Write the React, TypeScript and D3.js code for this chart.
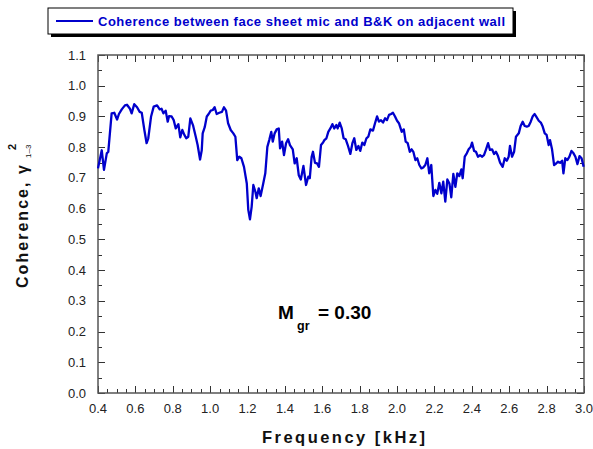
import React, { useEffect, useRef } from "react";
import * as d3 from "d3";

const freqKHz: number[] = [
  0.400, 0.420, 0.432, 0.447, 0.455, 0.473, 0.487, 0.502, 0.512, 0.527, 0.544, 0.555, 0.570, 0.580, 0.594, 0.609, 0.623, 0.634, 0.648, 0.660,
  0.669, 0.684, 0.698, 0.716, 0.730, 0.740, 0.750, 0.762, 0.773, 0.780, 0.794, 0.805, 0.816, 0.830, 0.840, 0.851, 0.862, 0.872, 0.883, 0.894,
  0.908, 0.923, 0.933, 0.946, 0.955, 0.960, 0.971, 0.982, 0.992, 1.003, 1.014, 1.024, 1.035, 1.049, 1.063, 1.074, 1.085, 1.096, 1.110, 1.124,
  1.135, 1.145, 1.156, 1.167, 1.181, 1.196, 1.204, 1.213, 1.222, 1.231, 1.242, 1.249, 1.260, 1.270, 1.284, 1.295, 1.306, 1.316, 1.327, 1.335,
  1.345, 1.356, 1.367, 1.374, 1.385, 1.395, 1.406, 1.417, 1.427, 1.442, 1.452, 1.463, 1.474, 1.485, 1.499, 1.513, 1.525, 1.533, 1.543, 1.550,
  1.561, 1.572, 1.582, 1.593, 1.604, 1.611, 1.622, 1.632, 1.643, 1.654, 1.664, 1.675, 1.682, 1.693, 1.704, 1.714, 1.725, 1.736, 1.750, 1.761,
  1.771, 1.782, 1.793, 1.803, 1.814, 1.825, 1.836, 1.846, 1.857, 1.871, 1.882, 1.893, 1.903, 1.914, 1.925, 1.936, 1.946, 1.957, 1.968, 1.978,
  1.989, 2.000, 2.010, 2.025, 2.036, 2.046, 2.057, 2.068, 2.078, 2.087, 2.098, 2.108, 2.119, 2.130, 2.140, 2.151, 2.162, 2.172, 2.183, 2.194,
  2.205, 2.215, 2.226, 2.237, 2.247, 2.258, 2.269, 2.280, 2.290, 2.301, 2.312, 2.322, 2.333, 2.344, 2.351, 2.362, 2.373, 2.383, 2.394, 2.401,
  2.412, 2.422, 2.433, 2.444, 2.454, 2.465, 2.476, 2.487, 2.497, 2.508, 2.519, 2.529, 2.540, 2.551, 2.565, 2.576, 2.587, 2.597, 2.604, 2.615,
  2.626, 2.636, 2.651, 2.661, 2.672, 2.683, 2.694, 2.704, 2.715, 2.726, 2.736, 2.747, 2.758, 2.769, 2.779, 2.790, 2.800, 2.811, 2.818, 2.829,
  2.840, 2.851, 2.861, 2.872, 2.883, 2.890, 2.900, 2.911, 2.922, 2.933, 2.944, 2.954, 2.965, 2.976, 2.987, 2.998,
];

const coherence: number[] = [
  0.731, 0.790, 0.726, 0.780, 0.785, 0.910, 0.912, 0.890, 0.908, 0.923, 0.936, 0.938, 0.926, 0.910, 0.940, 0.930, 0.915, 0.912, 0.856, 0.813,
  0.829, 0.900, 0.932, 0.936, 0.923, 0.925, 0.910, 0.919, 0.883, 0.901, 0.900, 0.888, 0.861, 0.875, 0.832, 0.856, 0.840, 0.829, 0.834, 0.894,
  0.872, 0.834, 0.807, 0.760, 0.790, 0.845, 0.865, 0.900, 0.908, 0.919, 0.921, 0.930, 0.908, 0.912, 0.915, 0.930, 0.919, 0.878, 0.856, 0.845,
  0.834, 0.758, 0.769, 0.764, 0.736, 0.682, 0.596, 0.565, 0.606, 0.677, 0.655, 0.634, 0.666, 0.641, 0.682, 0.715, 0.801, 0.823, 0.850, 0.818,
  0.845, 0.858, 0.861, 0.796, 0.818, 0.774, 0.813, 0.826, 0.807, 0.793, 0.747, 0.764, 0.709, 0.695, 0.739, 0.677, 0.704, 0.699, 0.769, 0.785,
  0.749, 0.747, 0.736, 0.807, 0.815, 0.823, 0.829, 0.850, 0.861, 0.875, 0.861, 0.872, 0.861, 0.880, 0.861, 0.829, 0.826, 0.807, 0.778, 0.813,
  0.829, 0.791, 0.804, 0.788, 0.815, 0.807, 0.829, 0.834, 0.858, 0.854, 0.878, 0.900, 0.883, 0.888, 0.880, 0.894, 0.888, 0.905, 0.908, 0.912,
  0.900, 0.886, 0.878, 0.850, 0.858, 0.818, 0.813, 0.785, 0.793, 0.785, 0.758, 0.764, 0.742, 0.731, 0.734, 0.742, 0.764, 0.715, 0.742, 0.641,
  0.661, 0.648, 0.684, 0.650, 0.688, 0.623, 0.695, 0.682, 0.637, 0.713, 0.671, 0.715, 0.706, 0.728, 0.699, 0.769, 0.780, 0.793, 0.801, 0.815,
  0.788, 0.785, 0.769, 0.774, 0.769, 0.774, 0.793, 0.813, 0.791, 0.793, 0.778, 0.785, 0.771, 0.750, 0.736, 0.764, 0.756, 0.769, 0.804, 0.769,
  0.785, 0.834, 0.845, 0.869, 0.883, 0.869, 0.867, 0.869, 0.883, 0.901, 0.908, 0.897, 0.886, 0.880, 0.867, 0.845, 0.840, 0.807, 0.823, 0.793,
  0.742, 0.747, 0.753, 0.749, 0.756, 0.715, 0.764, 0.758, 0.769, 0.788, 0.780, 0.769, 0.745, 0.771, 0.764, 0.736,
];

const xTickLabels: number[] = [0.4, 0.6, 0.8, 1.0, 1.2, 1.4, 1.6, 1.8, 2.0, 2.2, 2.4, 2.6, 2.8, 3.0];
const yTickLabels: number[] = [0.0, 0.1, 0.2, 0.3, 0.4, 0.5, 0.6, 0.7, 0.8, 0.9, 1.0, 1.1];
const legendLabel = "Coherence between face sheet mic and B&K on adjacent wall";
const xTitle = "Frequency [kHz]";
const yTitle = "Coherence, ";

const W = 593;
const H = 449;
const M = { left: 98, right: 9, top: 55, bottom: 56 };
const LINE = "#0000cc";
const AXIS = "#555";
const FONT = "'Liberation Sans', Arial, Helvetica, sans-serif";

export default function App() {
  const ref = useRef<SVGSVGElement>(null);

  useEffect(() => {
    const svg = d3.select(ref.current);
    svg.selectAll("*").remove();

    const x = d3.scaleLinear().domain([0.4, 3.0]).range([M.left, W - M.right]);
    const y = d3.scaleLinear().domain([0, 1.1]).range([H - M.bottom, M.top]);

    const g = svg.append("g");

    const xMinor = d3.range(0, 53).map((i) => 0.4 + i * 0.05).filter((v) => v <= 3.0001);
    const yMinor = d3.range(0, 23).map((i) => i * 0.05);

    const ticks = g.append("g").attr("stroke", "#333").attr("stroke-width", 1);
    xMinor.forEach((v, i) => {
      const major = i % 4 === 0;
      const len = major ? 7 : 4;
      const px = Math.round(x(v)) + 0.5;
      ticks.append("line").attr("x1", px).attr("x2", px).attr("y1", y(0)).attr("y2", y(0) - len);
      ticks.append("line").attr("x1", px).attr("x2", px).attr("y1", y(1.1)).attr("y2", y(1.1) + len);
    });
    yMinor.forEach((v, i) => {
      const major = i % 2 === 0;
      const len = major ? 7 : 4;
      const py = Math.round(y(v)) + 0.5;
      ticks.append("line").attr("x1", x(0.4)).attr("x2", x(0.4) + len).attr("y1", py).attr("y2", py);
      ticks.append("line").attr("x1", x(3.0)).attr("x2", x(3.0) - len).attr("y1", py).attr("y2", py);
    });

    g.append("rect")
      .attr("x", x(0.4))
      .attr("y", y(1.1))
      .attr("width", x(3.0) - x(0.4))
      .attr("height", y(0) - y(1.1))
      .attr("fill", "none")
      .attr("stroke", AXIS)
      .attr("stroke-width", 1.5);

    g.append("g")
      .selectAll("text")
      .data(xTickLabels)
      .join("text")
      .attr("x", (d) => x(d))
      .attr("y", y(0) + 20)
      .attr("text-anchor", "middle")
      .attr("font-family", FONT)
      .attr("font-size", 13)
      .attr("fill", "#222")
      .text((d) => d.toFixed(1));

    g.append("g")
      .selectAll("text")
      .data(yTickLabels)
      .join("text")
      .attr("x", x(0.4) - 12)
      .attr("y", (d) => y(d) + 4.5)
      .attr("text-anchor", "end")
      .attr("font-family", FONT)
      .attr("font-size", 13)
      .attr("fill", "#222")
      .text((d) => d.toFixed(1));

    const data = freqKHz.map((f, i) => [f, coherence[i]] as [number, number]);
    const line = d3
      .line<[number, number]>()
      .x((d) => x(d[0]))
      .y((d) => y(d[1]));
    g.append("path")
      .datum(data)
      .attr("d", line)
      .attr("fill", "none")
      .attr("stroke", LINE)
      .attr("stroke-width", 2.3)
      .attr("stroke-linejoin", "round");

    const lg = g.append("g");
    lg.append("rect").attr("x", 51).attr("y", 11).attr("width", 465).attr("height", 26).attr("fill", "#000");
    lg.append("rect")
      .attr("x", 48)
      .attr("y", 8)
      .attr("width", 465)
      .attr("height", 26)
      .attr("fill", "#fff")
      .attr("stroke", "#000")
      .attr("stroke-width", 1);
    lg.append("line").attr("x1", 56).attr("x2", 93).attr("y1", 21).attr("y2", 21).attr("stroke", LINE).attr("stroke-width", 2);
    lg.append("text")
      .attr("x", 98)
      .attr("y", 25.5)
      .attr("font-family", FONT)
      .attr("font-weight", "bold")
      .attr("font-size", 13)
      .attr("fill", LINE)
      .attr("textLength", 407)
      .attr("lengthAdjust", "spacing")
      .text(legendLabel);

    g.append("text")
      .attr("x", 262)
      .attr("y", 443)
      .attr("font-family", FONT)
      .attr("font-weight", "bold")
      .attr("font-size", 16.5)
      .attr("fill", "#111")
      .attr("textLength", 163)
      .attr("lengthAdjust", "spacing")
      .text(xTitle);

    const yt = g.append("g").attr("transform", "translate(28,288) rotate(-90)");
    const ytext = yt
      .append("text")
      .attr("x", 0)
      .attr("y", 0)
      .attr("font-family", FONT)
      .attr("font-weight", "bold")
      .attr("font-size", 16)
      .attr("fill", "#111");
    ytext.append("tspan").attr("textLength", 112).attr("lengthAdjust", "spacing").text(yTitle);
    ytext.append("tspan").text("γ");
    yt.append("text")
      .attr("x", 138)
      .attr("y", -12)
      .attr("font-family", FONT)
      .attr("font-weight", "bold")
      .attr("font-size", 11)
      .attr("fill", "#111")
      .text("2");
    yt.append("text")
      .attr("x", 130)
      .attr("y", 3)
      .attr("font-family", FONT)
      .attr("font-size", 8)
      .attr("fill", "#111")
      .text("1–3");

    const ann = g.append("g");
    ann.append("text")
      .attr("x", 278)
      .attr("y", 319)
      .attr("font-family", FONT)
      .attr("font-weight", "bold")
      .attr("font-size", 19)
      .attr("fill", "#000")
      .text("M");
    ann.append("text")
      .attr("x", 297)
      .attr("y", 330)
      .attr("font-family", FONT)
      .attr("font-weight", "bold")
      .attr("font-size", 12.5)
      .attr("fill", "#000")
      .text("gr");
    ann.append("text")
      .attr("x", 318)
      .attr("y", 319)
      .attr("font-family", FONT)
      .attr("font-weight", "bold")
      .attr("font-size", 19)
      .attr("fill", "#000")
      .text("= 0.30");
  }, []);

  return (
    <svg ref={ref} width={W} height={H} style={{ display: "block", position: "absolute", left: 0, top: 0, background: "#fff" }} />
  );
}
